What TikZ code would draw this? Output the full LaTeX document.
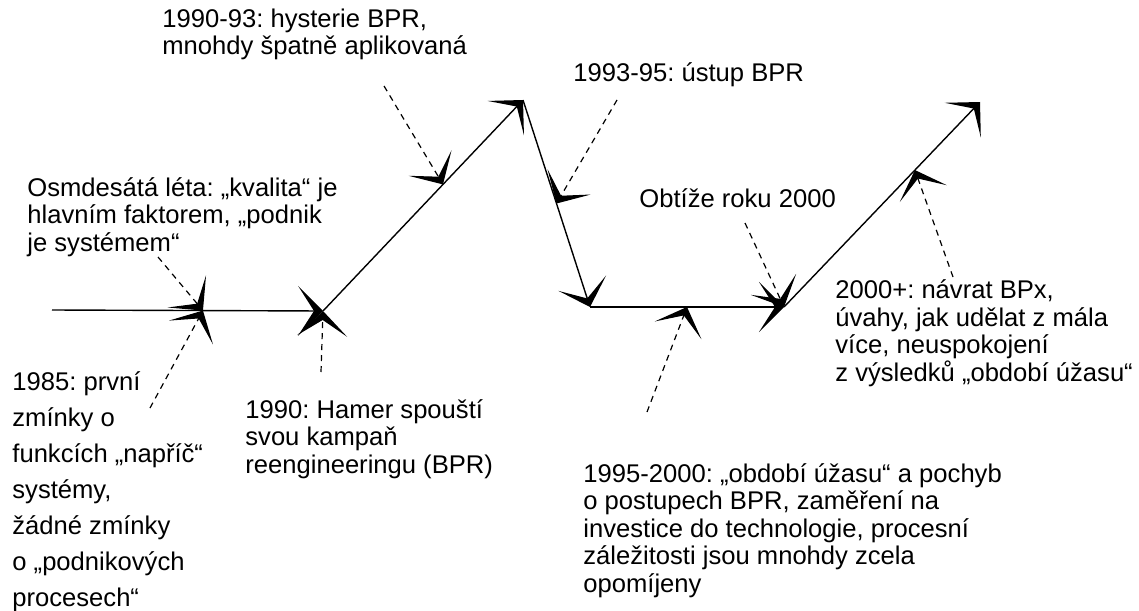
\documentclass[tikz,border=0pt]{standalone}
\usepackage{fontspec}
\setmainfont{Liberation Sans}
\usetikzlibrary{arrows.meta}
\frenchspacing

\begin{document}
\begin{tikzpicture}[x=0.5pt,y=-0.5pt,
  dart/.tip={Stealth[length=12.5pt,width=25pt,inset=8pt]},
  timeline/.style={line width=0.7pt,-dart},
  note/.style={dash pattern=on 3pt off 2.5pt,line width=0.6pt,-dart},
  stage/.style={align=left,anchor=base west,inner sep=0pt,font=\fontsize{12.8pt}{13.75pt}\selectfont}]
\useasboundingbox (0,0) rectangle (1139,610);
% bends of the time line, numbers are pixels of the original picture
\coordinate (start) at (52,310);
\coordinate (c1990) at (323,311);
\coordinate (peak)  at (523,100);
\coordinate (low)   at (590,307);
\coordinate (c2000) at (784,307);
\coordinate (end)   at (980,102);
\foreach \a/\b in {start/c1990,c1990/peak,peak/low,low/c2000,c2000/end}
  \draw[timeline] (\a) -- (\b);
% points hit by the notes
\path (start) -- (c1990) coordinate[pos=0.557] (m80)
      (c1990) -- (peak)  coordinate[pos=0.6]   (m9093)
      (peak)  -- (low)   coordinate[pos=0.5]   (m9395)
      (low)   -- (c2000) coordinate[pos=0.5]   (m9500)
      (c2000) -- (end)   coordinate[pos=0.668] (m2000p);

% texts, anchored at the baseline of their last line
\node[stage] (t9093) at (162,55) {1990-93: hysterie BPR,\\mnohdy špatně aplikovaná};
\node[stage] (t80) at (27,251) {Osmdesátá léta: „kvalita“ je\\hlavním faktorem, „podnik\\je systémem“};
\node[stage] (t9395) at (573,82) {1993-95: ústup BPR};
\node[stage] (ty2k) at (639,207) {Obtíže roku 2000};
\node[stage] (t2000p) at (835,381) {2000+: návrat BPx,\\úvahy, jak udělat z mála\\více, neuspokojení\\z výsledků „období úžasu“};
\node[stage,font=\fontsize{12.8pt}{18pt}\selectfont] (t1985) at (12,606) {1985: první\\zmínky o\\funkcích „napříč“\\systémy,\\žádné zmínky\\o „podnikových\\procesech“};
\node[stage] (t1990) at (245,473) {1990: Hamer spouští\\svou kampaň\\reengineeringu (BPR)};
\node[stage] (t9500) at (583,592) {1995-2000: „období úžasu“ a pochyb\\o postupech BPR, zaměření na\\investice do technologie, procesní\\záležitosti jsou mnohdy zcela\\opomíjeny};

% dashed notes
\coordinate (f80) at (158,257);
\coordinate (f1985) at (150,408);
\coordinate (f1990) at (321,372);
\coordinate (f9093) at (384,86);
\coordinate (f9395) at (617,100);
\coordinate (f9500) at (647,412);
\coordinate (fy2k) at (745,223);
\coordinate (f2000p) at (953,277);
\draw[note] (f80) -- (m80);
\draw[note] (f1985) -- (m80);
\draw[note] (f1990) -- (c1990);
\draw[note] (f9093) -- (m9093);
\draw[note] (f9395) -- (m9395);
\draw[note] (f9500) -- (m9500);
\draw[note] (fy2k) -- (c2000);
\draw[note] (f2000p) -- (m2000p);
\end{tikzpicture}
\end{document}
